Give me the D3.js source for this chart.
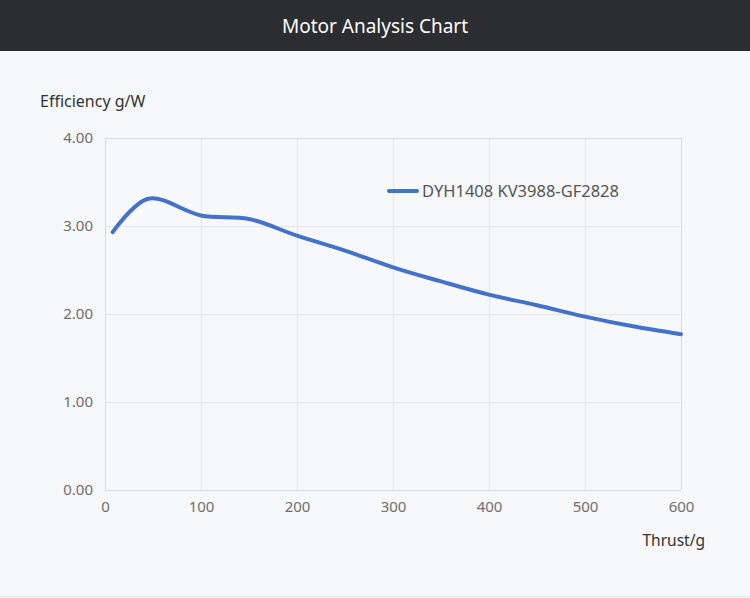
<!DOCTYPE html>
<html>
<head>
<meta charset="utf-8">
<script src="https://cdn.jsdelivr.net/npm/d3@7"></script>
<style>
  body { margin: 0; background: #f7f8fa; font-family: "Noto Sans", "Open Sans", sans-serif; }
  #header { height: 51px; background: #2b2d31; color: #fff; font-size: 19px; text-align: center; line-height: 52px; }
</style>
</head>
<body>
<div id="header">Motor Analysis Chart</div>
<div id="chart"></div>
<script>
// data
var seriesName = "DYH1408 KV3988-GF2828";
var thrust = [8, 45, 100, 150, 200, 250, 300, 350, 400, 450, 500, 550, 600];
var efficiency = [2.93, 3.31, 3.12, 3.08, 2.89, 2.72, 2.53, 2.37, 2.22, 2.10, 1.97, 1.86, 1.77];
var xTicks = [0, 100, 200, 300, 400, 500, 600];
var yTicks = [0, 1, 2, 3, 4];

var svgWidth = 750;
var svgHeight = 547;
// plot box in page coords: x 105..681, y 138..490 (svg starts at 51)
var margin = { top: 87, right: 69, bottom: 108, left: 105 };
var width = svgWidth - margin.left - margin.right;
var height = svgHeight - margin.top - margin.bottom;

var svg = d3.select("#chart")
    .append("svg")
    .attr("width", svgWidth)
    .attr("height", svgHeight)
    .style("display", "block");

// bottom border line
svg.append("line")
    .attr("x1", 0).attr("x2", svgWidth)
    .attr("y1", svgHeight - 1.5).attr("y2", svgHeight - 1.5)
    .attr("stroke", "#e4e6ea");

var g = svg.append("g")
    .attr("transform", `translate(${margin.left}, ${margin.top})`);

var x = d3.scaleLinear().domain([0, 600]).range([0, width]);
var y = d3.scaleLinear().domain([0, 4]).range([height, 0]);

// grid
g.append("g")
    .selectAll("line")
    .data(xTicks)
    .enter()
    .append("line")
    .attr("x1", d => x(d) + 0.5).attr("x2", d => x(d) + 0.5)
    .attr("y1", 0).attr("y2", height)
    .attr("stroke", d => (d === 0 || d === 600) ? "#d9d9d9" : "#e6e6e6");

g.append("g")
    .selectAll("line")
    .data(yTicks)
    .enter()
    .append("line")
    .attr("x1", 0).attr("x2", width)
    .attr("y1", d => y(d) + 0.5).attr("y2", d => y(d) + 0.5)
    .attr("stroke", d => (d === 0 || d === 4) ? "#d9d9d9" : "#e6e6e6");

// axes labels via d3 axis
var xAxis = d3.axisBottom(x).tickValues(xTicks).tickSize(0).tickPadding(11);
var yAxis = d3.axisLeft(y).tickValues(yTicks).tickSize(0).tickPadding(12).tickFormat(d3.format(".2f"));

var xg = g.append("g").attr("transform", `translate(0, ${height})`).call(xAxis);
var yg = g.append("g").call(yAxis);
[xg, yg].forEach(function (a) {
    a.select(".domain").remove();
    a.selectAll("text")
        .attr("fill", "#6e6e6e")
        .style("font-size", "15px")
        .style("font-family", "'Noto Sans', sans-serif");
});

// axis names
g.append("text")
    .attr("x", -65)
    .attr("y", -31)
    .attr("fill", "#333")
    .style("font-size", "16px")
    .text("Efficiency g/W");

g.append("text")
    .attr("x", width + 24)
    .attr("y", height + 56)
    .attr("text-anchor", "end")
    .attr("fill", "#333")
    .style("font-size", "15.5px")
    .text("Thrust/g");

// line
var pts = thrust.map((t, i) => [t, efficiency[i]]);
var line = d3.line()
    .x(d => x(d[0]))
    .y(d => y(d[1]))
    .curve(d3.curveCatmullRom.alpha(0.5));

g.append("path")
    .datum(pts)
    .attr("fill", "none")
    .attr("stroke", "#4472ca")
    .attr("stroke-width", 4)
    .attr("stroke-linecap", "round")
    .attr("stroke-linejoin", "round")
    .attr("d", line);

// legend
var legend = g.append("g").attr("transform", `translate(${389 - margin.left}, ${191 - 51 - margin.top})`);
legend.append("line")
    .attr("x1", 0).attr("x2", 28)
    .attr("y1", 0).attr("y2", 0)
    .attr("stroke", "#4472ca")
    .attr("stroke-width", 4)
    .attr("stroke-linecap", "round");
legend.append("text")
    .attr("x", 33)
    .attr("y", 0)
    .attr("dy", "0.35em")
    .attr("fill", "#555")
    .style("font-size", "16.5px")
    .text(seriesName);
</script>
</body>
</html>
